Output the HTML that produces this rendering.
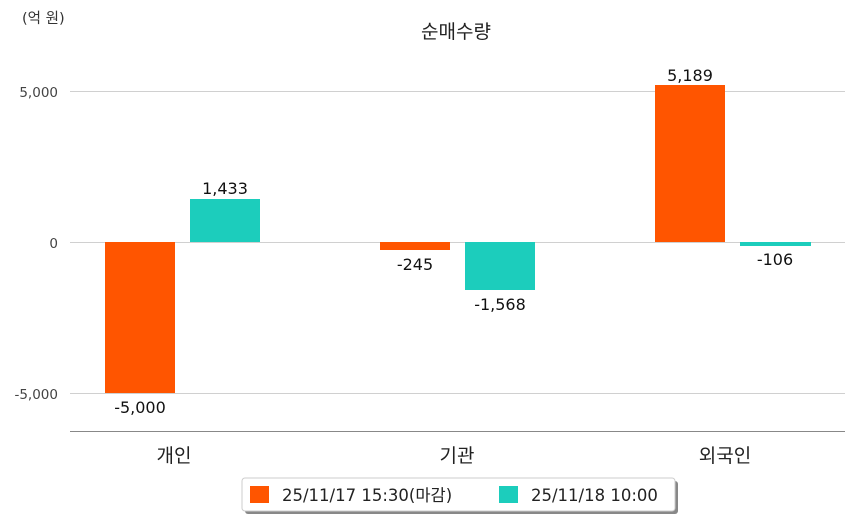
<!DOCTYPE html>
<html><head><meta charset="utf-8"><style>
body{margin:0;background:#fff;width:854px;height:520px;overflow:hidden}
svg text{font-family:"DejaVu Sans","Noto Sans CJK KR",sans-serif}
</style></head><body>
<svg width="854" height="520" xmlns="http://www.w3.org/2000/svg">
<rect width="854" height="520" fill="#fff"/>
<text x="22" y="23" font-size="14.5" fill="#333">(억 원)</text>
<text x="456" y="38" font-size="19" fill="#222" text-anchor="middle">순매수량</text>
<g stroke="#d0d0d0" stroke-width="1">
<line x1="70" y1="91.5" x2="845" y2="91.5"/>
<line x1="70" y1="242.5" x2="845" y2="242.5"/>
<line x1="70" y1="393.5" x2="845" y2="393.5"/>
</g>
<line x1="70" y1="431.5" x2="845" y2="431.5" stroke="#888"/>
<g font-size="13.5" fill="#444" text-anchor="end">
<text x="58" y="97">5,000</text>
<text x="58" y="248">0</text>
<text x="58" y="399">-5,000</text>
</g>
<rect x="105" y="242" width="70" height="151" fill="#ff5500"/>
<rect x="190" y="199" width="70" height="43" fill="#1ccdbc"/>
<rect x="380" y="242" width="70" height="8" fill="#ff5500"/>
<rect x="465" y="242" width="70" height="48" fill="#1ccdbc"/>
<rect x="655" y="85" width="70" height="157" fill="#ff5500"/>
<rect x="740" y="242" width="71" height="4" fill="#1ccdbc"/>
<g font-size="16" fill="#111" text-anchor="middle">
<text x="140" y="413">-5,000</text>
<text x="225" y="194">1,433</text>
<text x="415" y="270">-245</text>
<text x="500" y="310">-1,568</text>
<text x="690" y="81">5,189</text>
<text x="775" y="265">-106</text>
</g>
<g font-size="19" fill="#222" text-anchor="middle">
<text x="174" y="462">개인</text>
<text x="457" y="462">기관</text>
<text x="725" y="462">외국인</text>
</g>
<rect x="245" y="481" width="433" height="33" rx="3" fill="#888"/>
<rect x="242" y="478" width="433" height="33" rx="3" fill="#fff" stroke="#ccc"/>
<rect x="250" y="486" width="19" height="17" fill="#ff5500"/>
<rect x="499" y="486" width="19" height="17" fill="#1ccdbc"/>
<g font-size="16.5" fill="#222">
<text x="282" y="501">25/11/17 15:30(마감)</text>
<text x="531" y="501">25/11/18 10:00</text>
</g>
</svg>
</body></html>
